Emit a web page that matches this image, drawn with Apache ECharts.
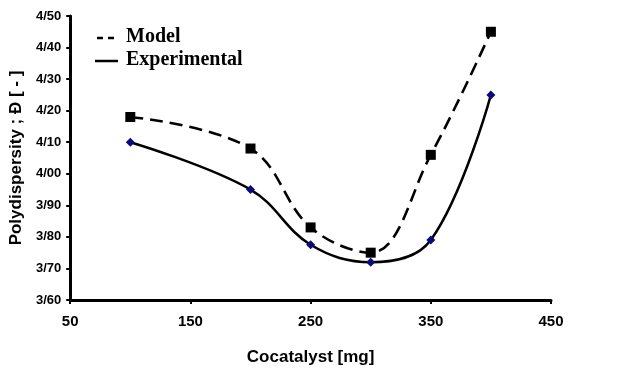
<!DOCTYPE html>
<html><head><meta charset="utf-8">
<script src="https://cdn.jsdelivr.net/npm/echarts@6/dist/echarts.min.js"></script>
<style>html,body{margin:0;padding:0;background:#fff}#c{width:625px;height:371px}</style>
</head><body><div id="c"></div>
<script>
const xCats = [100, 200, 250, 300, 350, 400];
const modelVals = [4.18, 4.08, 3.83, 3.75, 4.06, 4.45];
const expVals = [4.10, 3.95, 3.775, 3.72, 3.79, 4.25];
const xTicks = [50, 150, 250, 350, 450];
const yTickLabels = ['3/60','3/70','3/80','3/90','4/00','4/10','4/20','4/30','4/40','4/50'];

const chart = echarts.init(document.getElementById('c'));
const sans = 'Liberation Sans, Arial';
chart.setOption({
  animation:false,
  grid:{left:67,right:74,top:16,bottom:66},
  xAxis:{type:'value',min:50,max:450,interval:100,
    name:'Cocatalyst [mg]',nameLocation:'middle',nameGap:49,
    nameTextStyle:{fontFamily:sans,fontWeight:'bold',fontSize:17,color:'#000'},
    axisLine:{lineStyle:{color:'#000',width:3}},
    axisTick:{show:true,length:4,lineStyle:{color:'#000',width:2}},
    axisLabel:{margin:14,fontFamily:sans,fontWeight:'bold',fontSize:15,color:'#000',
      formatter:v=>String(xTicks[Math.round((v-50)/100)])},
    splitLine:{show:false}},
  yAxis:{type:'value',min:3.6,max:4.5,interval:0.1,
    name:'Polydispersity ; Đ [ - ]',nameLocation:'middle',nameGap:45,nameRotate:90,
    nameTextStyle:{fontFamily:sans,fontWeight:'bold',fontSize:17,color:'#000'},
    axisLine:{show:true,lineStyle:{color:'#000',width:3}},
    axisTick:{show:true,length:4,lineStyle:{color:'#000',width:2}},
    axisLabel:{margin:9,fontFamily:sans,fontWeight:'bold',fontSize:13,color:'#000',
      formatter:v=>yTickLabels[Math.round((v-3.6)*10)]},
    splitLine:{show:false}},
  series:[
    {name:'Model',type:'line',smooth:0.38,data:xCats.map((x,i)=>[x,modelVals[i]]),
     symbol:'rect',symbolSize:10,itemStyle:{color:'#000'},
     lineStyle:{color:'#000',width:2.6,type:[13,7]},z:3},
    {name:'Experimental',type:'line',smooth:0.38,data:xCats.map((x,i)=>[x,expVals[i]]),
     symbol:'diamond',symbolSize:9,itemStyle:{color:'#0a0a7a'},
     lineStyle:{color:'#000',width:2.5},z:2}
  ],
  graphic:[
    {type:'line',shape:{x1:97,y1:38,x2:117,y2:38},style:{stroke:'#000',lineWidth:2.5,lineDash:[6,5]}},
    {type:'text',left:126,top:27,style:{text:'Model',font:'bold 20px "Liberation Serif", "Times New Roman", serif',fill:'#000'}},
    {type:'line',shape:{x1:95,y1:61,x2:118,y2:61},style:{stroke:'#000',lineWidth:2.5}},
    {type:'text',left:126,top:50,style:{text:'Experimental',font:'bold 20px "Liberation Serif", "Times New Roman", serif',fill:'#000'}}
  ]
});
</script></body></html>
